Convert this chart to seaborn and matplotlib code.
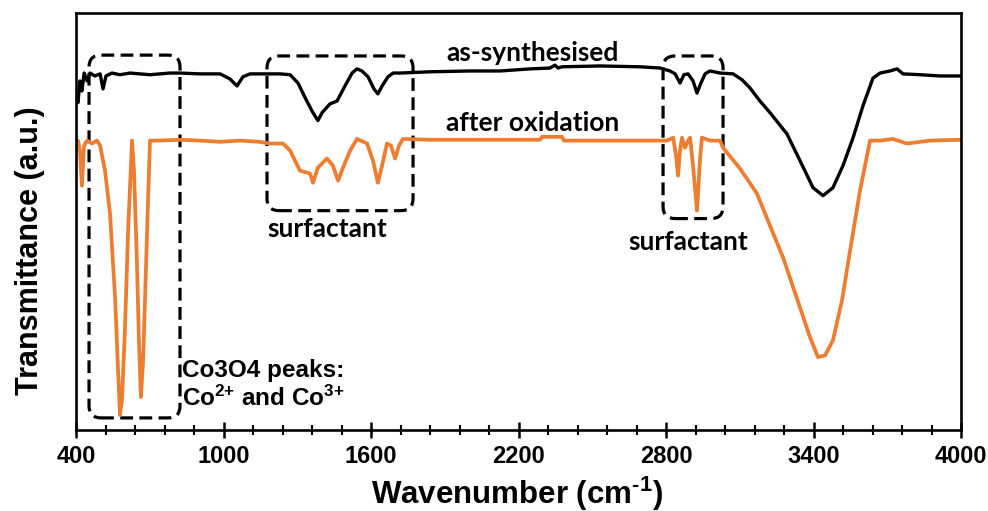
import matplotlib
matplotlib.use("Agg")
import matplotlib.pyplot as plt
from matplotlib.patches import FancyBboxPatch
import seaborn as sns

# FTIR spectra (transmittance in a.u.)
wn_as = [400, 408, 416, 424, 433, 445, 457, 477, 498, 510,
         522, 546, 579, 620, 660, 701, 742, 782, 823, 904,
         986, 1026, 1055, 1079, 1108, 1169, 1230, 1271, 1303, 1332,
         1360, 1384, 1401, 1433, 1462, 1494, 1523, 1543, 1563, 1588,
         1612, 1628, 1645, 1669, 1690, 1718, 1840, 2003, 2125, 2247,
         2328, 2348, 2361, 2377, 2532, 2694, 2776, 2816, 2837, 2857,
         2873, 2890, 2910, 2926, 2942, 2959, 2979, 3020, 3073, 3109,
         3142, 3182, 3223, 3292, 3345, 3398, 3439, 3479, 3520, 3561,
         3601, 3642, 3671, 3711, 3740, 3764, 3833, 3915, 4000]
t_as = [80.1, 78.5, 83.7, 81.3, 85.6, 83.7, 85.6, 84.9, 85.4, 81.8,
        84.9, 85.6, 85.2, 85.6, 85.4, 85.2, 85.4, 85.6, 85.6, 85.4,
        85.4, 84.2, 82.5, 84.7, 85.4, 85.4, 85.4, 85.2, 83.2, 79.7,
        76.5, 74.2, 76.1, 78.2, 78.9, 82.5, 85.6, 86.6, 86.1, 84.7,
        81.8, 80.6, 82.5, 84.7, 85.6, 85.6, 85.9, 86.1, 86.1, 86.6,
        86.8, 87.5, 86.8, 87.1, 87.3, 87.1, 86.8, 86.1, 85.4, 83.2,
        85.2, 85.4, 83.7, 80.8, 83.2, 85.4, 86.1, 85.6, 85.4, 84.0,
        82.0, 78.9, 76.1, 71.0, 64.6, 58.1, 56.2, 58.1, 63.4, 70.1,
        77.7, 84.4, 85.6, 86.1, 86.6, 85.4, 85.2, 84.9, 84.9]

wn_ox = [400, 408, 416, 424, 433, 445, 465, 485, 498, 518,
         538, 559, 571, 579, 587, 599, 612, 628, 636, 648,
         656, 664, 673, 681, 693, 701, 742, 823, 904, 986,
         1067, 1148, 1189, 1242, 1271, 1311, 1352, 1364, 1384, 1421,
         1445, 1466, 1486, 1515, 1543, 1584, 1608, 1628, 1645, 1665,
         1681, 1698, 1714, 1730, 1840, 2125, 2287, 2296, 2377, 2385,
         2532, 2694, 2804, 2829, 2841, 2849, 2857, 2865, 2877, 2890,
         2898, 2910, 2926, 2938, 2946, 2979, 3020, 3032, 3101, 3170,
         3223, 3276, 3345, 3386, 3418, 3447, 3479, 3516, 3549, 3589,
         3630, 3671, 3723, 3780, 3874, 4000]
t_ox = [67.5, 69.4, 67.0, 58.6, 68.2, 69.4, 68.7, 69.4, 68.2, 62.2,
        52.1, 31.8, 14.4, 3.6, 7.2, 23.9, 47.8, 69.4, 62.2, 39.9,
        21.5, 7.9, 16.7, 31.8, 55.0, 69.4, 69.4, 69.6, 69.4, 69.1,
        69.4, 69.1, 68.7, 68.7, 67.0, 62.2, 61.5, 59.3, 62.9, 65.1,
        63.4, 59.8, 62.9, 67.0, 69.8, 68.7, 64.6, 59.3, 63.4, 68.7,
        68.2, 65.1, 68.2, 69.8, 69.6, 69.6, 69.6, 70.3, 70.3, 69.4,
        69.4, 69.4, 69.4, 70.1, 65.8, 61.0, 67.0, 70.1, 67.7, 69.4,
        70.1, 63.4, 52.6, 64.6, 70.1, 69.4, 69.4, 67.7, 62.7, 56.7,
        49.0, 41.4, 29.4, 22.2, 17.5, 17.9, 21.5, 31.1, 43.1, 57.4,
        69.4, 69.4, 69.8, 68.7, 69.4, 69.6]

# dashed boxes: (wn left, wn right, T bottom, T top)
boxes = [(453, 823, 2.9, 89.9), (1177, 1771, 52.6, 89.7), (2788, 3032, 50.7, 89.7)]

xticks = [400, 1000, 1600, 2200, 2800, 3400, 4000]

sns.set_theme(style="ticks")
plt.rcParams["font.family"] = ["Liberation Sans", "DejaVu Sans"]
plt.rcParams["font.weight"] = "bold"
plt.rcParams["text.color"] = "black"
plt.rcParams["axes.labelcolor"] = "black"
plt.rcParams["xtick.color"] = "black"
plt.rcParams["mathtext.fontset"] = "custom"
plt.rcParams["mathtext.rm"] = "Liberation Sans:bold"
plt.rcParams["mathtext.it"] = "Liberation Sans:bold"
plt.rcParams["mathtext.bf"] = "Liberation Sans:bold"

fig = plt.figure(figsize=(9.88, 5.11), dpi=100)
ax = fig.add_axes([76 / 988, 1 - 430 / 511, 885 / 988, 417 / 511])

sns.lineplot(x=wn_as, y=t_as, sort=False, color="black", lw=2.4, ax=ax)
sns.lineplot(x=wn_ox, y=t_ox, sort=False, color="#ED7D31", lw=2.7, ax=ax)

for x0, x1, y0, y1 in boxes:
    ax.add_patch(FancyBboxPatch((x0, y0), x1 - x0, y1 - y0,
                                boxstyle="round,pad=0,rounding_size=49",
                                mutation_aspect=0.0586, fill=False,
                                ec="black", lw=2.3, ls=(0, (4, 2))))

ann = dict(fontsize=19, fontweight="bold", family=["Lato", "DejaVu Sans"])
ax.text(2259, 90.4, "as-synthesised", ha="center", va="center", **ann)
ax.text(2259, 73.7, "after oxidation", ha="center", va="center", **ann)
ax.text(1421, 48.3, "surfactant", ha="center", va="center", **ann)
ax.text(2890, 45.0, "surfactant", ha="center", va="center", **ann)
ax.text(831, 14.3, "Co3O4 peaks:", ha="left", va="center", fontsize=17.5, fontweight="bold")
ax.text(831, 7.6, r"Co$^{\text{2+}}$ and Co$^{\text{3+}}$", ha="left", va="center",
        fontsize=17.5, fontweight="bold")

ax.set_xlim(400, 4000)
ax.set_ylim(0, 100)
ax.set_xticks(xticks)
ax.set_xticks(range(400, 4001, 120), minor=True)
ax.set_yticks([])
ax.tick_params(axis="x", which="major", direction="inout", length=11, width=1.8, labelsize=17, pad=5)
ax.tick_params(axis="x", which="minor", direction="inout", length=7, width=1.5)
for lab in ax.get_xticklabels():
    lab.set_fontweight("bold")
for sp in ax.spines.values():
    sp.set_linewidth(1.9)
    sp.set_color("black")

ax.set_xlabel(r"Wavenumber (cm$^{\text{-1}}$)", fontsize=22.5, fontweight="bold")
ax.set_ylabel("Transmittance (a.u.)", fontsize=22, fontweight="bold")
ax.xaxis.set_label_coords(0.498, -0.106)
ax.yaxis.set_label_coords(-0.035, 0.43)

fig.savefig("out.png", dpi=100)
